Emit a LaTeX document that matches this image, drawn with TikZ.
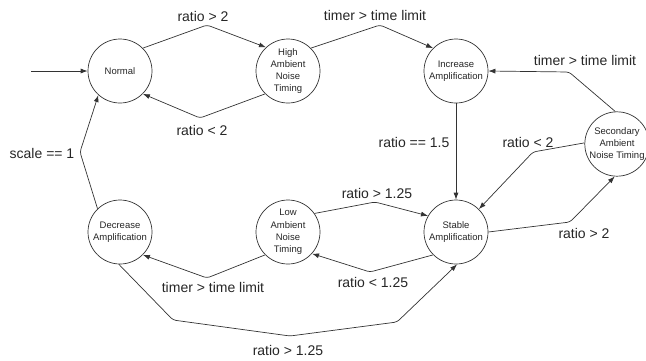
\documentclass[tikz,border=0pt]{standalone}
\usepackage{fontspec}
\setmainfont{Liberation Sans}
\usetikzlibrary{arrows.meta}
\tikzset{st/.style={draw=black!80, circle, line width=0.7pt, minimum size=64pt, inner sep=0pt, align=center, text=black!85, font=\fontsize{9.5}{12.3}\selectfont}}
\tikzset{lbl/.style={inner sep=1pt, text=black!85, font=\fontsize{14}{16}\selectfont}}
\tikzset{tr/.style={draw=black!80, line width=0.7pt, rounded corners=3pt, -{Latex[length=7pt,width=5pt]}}}

\begin{document}
\begin{tikzpicture}[x=1pt, y=-1pt]
		\useasboundingbox (0,0) rectangle (646,360);
		
		\node[st] (norm) at (120,71) {Normal};
		\node[st] (high) at (288,71) {High\\Ambient\\Noise\\Timing};
		\node[st] (inc) at (456,71) {Increase\\Amplification};
		\node[st] (sec) at (617,144) {Secondary\\Ambient\\Noise Timing};
		\node[st] (stab) at (456,232) {Stable\\Amplification};
		\node[st] (low) at (288,232) {Low\\Ambient\\Noise\\Timing};
		\node[st] (dec) at (120,232) {Decrease\\Amplification};
		\coordinate (in) at (31,71);
		
		\draw[tr] (in) -- (norm.west);
		\draw[tr] (norm.45) -- (207,25) -- (high.133);
		\draw[tr] (high.225) -- (200,118) -- (norm.315);
		\draw[tr] (high.45) -- (380,25) -- (inc.135);
		\draw[tr] (sec.93) -- (569,72) -- (inc.east);
		\draw[tr] (inc.south) -- (stab.north);
		\draw[tr] (sec.178) -- (533,152) -- (stab.45);
		\draw[tr] (stab.east) -- (570,222) -- (sec.266);
		\draw[tr] (low.35) -- (375,202) -- (stab.150);
		\draw[tr] (stab.225) -- (370,272) -- (low.318);
		\draw[tr] (low.225) -- (207,278) -- (dec.315);
		\draw[tr] (dec.268) -- (173,320) -- (290,336) -- (397,322) -- (stab.272);
		\draw[tr] (dec.134) -- (80,152) -- (norm.228);
		
		% transition labels
		\node[lbl] (l1) at (203,16) {ratio > 2};
		\node[lbl] (l2) at (202,130) {ratio < 2};
		\node[lbl] (l3) at (375,15) {timer > time limit};
		\node[lbl] (l4) at (585,60) {timer > time limit};
		\node[lbl] (l5) at (414,142) {ratio == 1.5};
		\node[lbl] (l6) at (528,142) {ratio < 2};
		\node[lbl] (l7) at (584,233) {ratio > 2};
		\node[lbl] (l8) at (377,193) {ratio > 1.25};
		\node[lbl] (l9) at (373,282) {ratio < 1.25};
		\node[lbl] (l10) at (213,287) {timer > time limit};
		\node[lbl] (l11) at (288,350) {ratio > 1.25};
		\node[lbl] (l12) at (42,153) {scale == 1};
		
\end{tikzpicture}
\end{document}
